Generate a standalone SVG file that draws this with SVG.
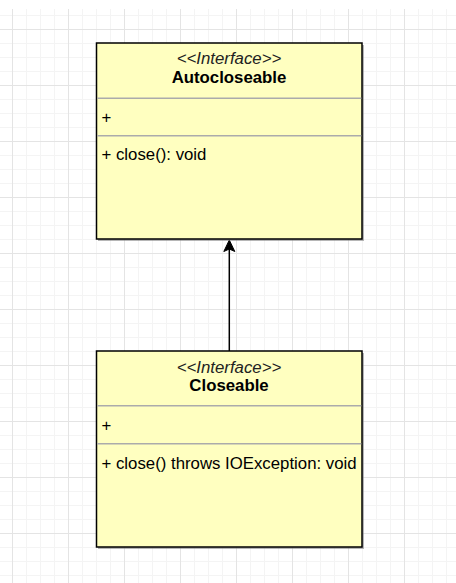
<svg xmlns="http://www.w3.org/2000/svg" width="456" height="583" viewBox="0 0 456 583">
<style>
.box{fill:#ffffc0;stroke:#000;stroke-width:1.5}
.shadow{fill:#7a7a7a;opacity:0.55}
.sep{stroke:#ababab;stroke-width:1.5}
.t{font-family:"Liberation Sans",Arial,sans-serif;font-size:16.8px;fill:#000}
.st{font-style:italic;fill:#222}
.nm{font-weight:bold}
.conn{stroke:#000;stroke-width:1.5;fill:none}
</style>
<defs>
<pattern id="grid" patternUnits="userSpaceOnUse" x="12" y="29" width="56" height="56">
<path d="M14.5,0V56M28.5,0V56M42.5,0V56M0,14.5H56M0,28.5H56M0,42.5H56" stroke="#f4f4f4" stroke-width="1" fill="none"/>
<path d="M0.5,0V56M0,0.5H56" stroke="#e4e4e4" stroke-width="1" fill="none"/>
</pattern>
</defs>
<rect x="0" y="0" width="456" height="583" fill="#fff"/>
<rect x="0" y="9" width="456" height="574" fill="url(#grid)"/>
<g id="connectors">
<line class="conn" x1="229.3" y1="351" x2="229.3" y2="248"/>
<path d="M229.3,240 L234.8,251.5 L229.3,249 L223.8,251.5 Z" fill="#000" stroke="#000" stroke-width="1"/>
</g>
<g id="autocloseable">
<rect class="shadow" x="98" y="45" width="266" height="196"/>
<rect class="box" x="96.5" y="43" width="265.5" height="196"/>
<line class="sep" x1="97.2" y1="98.3" x2="361.3" y2="98.3"/>
<line class="sep" x1="97.2" y1="135.7" x2="361.3" y2="135.7"/>
<text class="t st" x="229" y="64" text-anchor="middle">&lt;&lt;Interface&gt;&gt;</text>
<text class="t nm" x="229" y="83" text-anchor="middle">Autocloseable</text>
<text class="t" x="101.5" y="122.5">+</text>
<text class="t" x="101.5" y="160.3">+ close(): void</text>
</g>
<g id="closeable">
<rect class="shadow" x="98" y="353" width="266" height="196"/>
<rect class="box" x="96.5" y="351" width="265.5" height="196"/>
<line class="sep" x1="97.2" y1="405.8" x2="361.3" y2="405.8"/>
<line class="sep" x1="97.2" y1="443.7" x2="361.3" y2="443.7"/>
<text class="t st" x="229" y="372.5" text-anchor="middle">&lt;&lt;Interface&gt;&gt;</text>
<text class="t nm" x="229" y="391" text-anchor="middle">Closeable</text>
<text class="t" x="101.5" y="430.5">+</text>
<text class="t" x="101.5" y="468.5">+ close() throws IOException: void</text>
</g>
</svg>
